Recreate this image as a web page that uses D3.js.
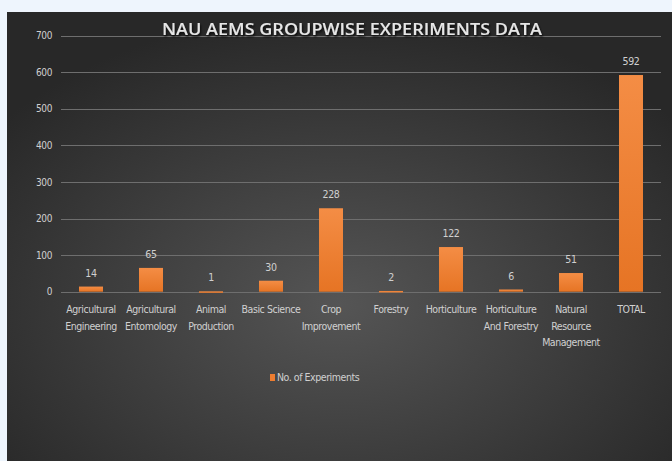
<!DOCTYPE html>
<html>
<head>
<meta charset="utf-8">
<script src="https://cdn.jsdelivr.net/npm/d3@7"></script>
<style>
  html, body { margin: 0; padding: 0; background: #eef5fd; }
  svg { display: block; }
  text { font-family: "Liberation Sans Narrow", "DejaVu Sans Condensed", "Open Sans", sans-serif; }
</style>
</head>
<body>
<div id="chart"></div>
<script>
let width = 672;
let height = 461;

// data
let categories = [
  "Agricultural Engineering", "Agricultural Entomology", "Animal Production",
  "Basic Science", "Crop Improvement", "Forestry", "Horticulture",
  "Horticulture And Forestry", "Natural Resource Management", "TOTAL"
];
// how each label wraps in the original
let label_lines = [
  ["Agricultural", "Engineering"], ["Agricultural", "Entomology"], ["Animal", "Production"],
  ["Basic Science"], ["Crop", "Improvement"], ["Forestry"], ["Horticulture"],
  ["Horticulture", "And Forestry"], ["Natural", "Resource", "Management"], ["TOTAL"]
];
let experiments = [14, 65, 1, 30, 228, 2, 122, 6, 51, 592];
let y_ticks = [0, 100, 200, 300, 400, 500, 600, 700];
let series_name = "No. of Experiments";
let title = "NAU AEMS GROUPWISE EXPERIMENTS DATA";

let svg = d3.select("#chart")
  .append("svg")
  .attr("width", width)
  .attr("height", height);

let defs = svg.append("defs");
let bg = defs.append("radialGradient")
  .attr("id", "bg")
  .attr("cx", "50%").attr("cy", "65%").attr("r", "65%");
bg.append("stop").attr("offset", "0%").attr("stop-color", "#555555");
bg.append("stop").attr("offset", "100%").attr("stop-color", "#282828");

let bar_grad = defs.append("linearGradient")
  .attr("id", "bar")
  .attr("x1", 0).attr("y1", 0).attr("x2", 0).attr("y2", 1);
bar_grad.append("stop").attr("offset", "0%").attr("stop-color", "#f48d45");
bar_grad.append("stop").attr("offset", "100%").attr("stop-color", "#e67424");

let shadow = defs.append("filter").attr("id", "shadow")
  .attr("x", "-5%").attr("y", "-30%").attr("width", "110%").attr("height", "160%");
shadow.append("feDropShadow")
  .attr("dx", 1).attr("dy", 2).attr("stdDeviation", 1.2)
  .attr("flood-color", "#000").attr("flood-opacity", 0.8);

// dark panel
svg.append("rect")
  .attr("x", 7).attr("y", 12)
  .attr("width", width - 7).attr("height", height - 12)
  .attr("fill", "url(#bg)");

let x = d3.scaleBand()
  .domain(categories)
  .range([61, 661])
  .paddingInner(0.6)
  .paddingOuter(0.3);

let y = d3.scaleLinear()
  .domain([0, 700])
  .range([291.7, 35.5]);

// gridlines
svg.append("g")
  .selectAll("line")
  .data(y_ticks)
  .enter().append("line")
    .attr("x1", 61).attr("x2", 661)
    .attr("y1", d => Math.round(y(d)) + 0.5)
    .attr("y2", d => Math.round(y(d)) + 0.5)
    .attr("stroke", "#6e6e6e")
    .attr("stroke-width", 1);

// y axis labels
let y_axis = svg.append("g")
  .attr("transform", "translate(61,0)")
  .call(d3.axisLeft(y).tickValues(y_ticks).tickSize(0).tickPadding(9));
y_axis.select(".domain").remove();
y_axis.selectAll("text")
  .attr("fill", "#d0d0d0")
  .style("font-family", "\"DejaVu Sans Condensed\", sans-serif")
  .style("font-size", "10px")
  .style("letter-spacing", "-0.4px");

// bars
svg.append("g")
  .selectAll("rect")
  .data(experiments)
  .enter().append("rect")
    .attr("x", (d, i) => x(categories[i]))
    .attr("y", d => y(d))
    .attr("width", x.bandwidth())
    .attr("height", d => Math.max(1.5, y(0) - y(d)))
    .attr("fill", "url(#bar)");

// value labels
svg.append("g")
  .selectAll("text")
  .data(experiments)
  .enter().append("text")
    .attr("x", (d, i) => x(categories[i]) + x.bandwidth() / 2)
    .attr("y", d => y(d) - 10)
    .attr("text-anchor", "middle")
    .attr("fill", "#d0d0d0")
    .style("font-size", "10.5px")
    .style("letter-spacing", "-0.3px")
    .text(d => d);

// category labels
let cat = svg.append("g")
  .selectAll("text")
  .data(categories)
  .enter().append("text")
    .attr("x", d => x(d) + x.bandwidth() / 2)
    .attr("y", 313)
    .attr("text-anchor", "middle")
    .attr("fill", "#d0d0d0")
    .style("font-size", "10.5px")
    .style("letter-spacing", "-0.45px");
cat.selectAll("tspan")
  .data((d, i) => label_lines[i])
  .enter().append("tspan")
    .attr("x", function() { return this.parentNode.getAttribute("x"); })
    .attr("dy", (d, i) => i === 0 ? 0 : 16.5)
    .text(d => d);

// legend
let legend = svg.append("g").attr("transform", "translate(270,378)");
legend.append("rect")
  .attr("x", 0).attr("y", -4)
  .attr("width", 5).attr("height", 7)
  .attr("fill", "#ed7d31");
legend.append("text")
  .attr("x", 7).attr("y", 3)
  .attr("fill", "#d0d0d0")
  .style("font-size", "10.5px")
  .style("letter-spacing", "-0.45px")
  .text(series_name);

// title
svg.append("text")
  .attr("x", 352).attr("y", 35)
  .attr("text-anchor", "middle")
  .attr("fill", "#e6e6e6")
  .attr("filter", "url(#shadow)")
  .style("font-family", "'Open Sans', sans-serif")
  .style("font-size", "17px")
  .style("font-weight", "600")
  .attr("textLength", 380)
  .attr("lengthAdjust", "spacingAndGlyphs")
  .text(title);
</script>
</body>
</html>
